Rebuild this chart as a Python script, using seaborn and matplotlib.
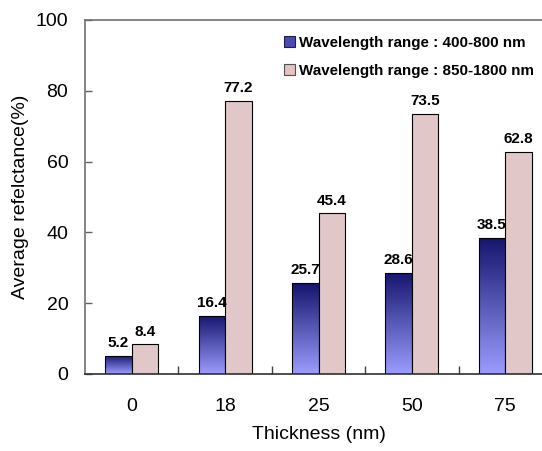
import numpy as np
import pandas as pd
import matplotlib
matplotlib.use("Agg")
import matplotlib.pyplot as plt
import seaborn as sns
from matplotlib.colors import LinearSegmentedColormap
from matplotlib.patches import Patch

thickness = ["0", "18", "25", "50", "75"]
series_names = ["Wavelength range : 400-800 nm", "Wavelength range : 850-1800 nm"]
visible_vals = [5.2, 16.4, 25.7, 28.6, 38.5]
nir_vals = [8.4, 77.2, 45.4, 73.5, 62.8]
y_ticks = [0, 20, 40, 60, 80, 100]

df = pd.DataFrame({
    "Thickness": thickness * 2,
    "Series": [series_names[0]] * len(thickness) + [series_names[1]] * len(thickness),
    "Value": visible_vals + nir_vals,
})

sns.set_style("white")
plt.rcParams["font.family"] = ["Liberation Sans", "DejaVu Sans"]
plt.rcParams["text.color"] = "black"
plt.rcParams["axes.labelcolor"] = "black"
plt.rcParams["xtick.labelcolor"] = "black"
plt.rcParams["ytick.labelcolor"] = "black"

fig = plt.figure(figsize=(5.42, 4.51), dpi=100)
ax = fig.add_axes([85 / 542, 77 / 451, 467 / 542, 354 / 451])

blue_flat = "#4a4ab4"
pink = "#e6c2c2"
sns.barplot(data=df, x="Thickness", y="Value", hue="Series", order=thickness,
            hue_order=series_names, palette=[blue_flat, pink], width=0.567,
            edgecolor="black", linewidth=0.8, legend=False, ax=ax)

ax.set_xlim(-0.5, 4.5)
ax.set_ylim(0, 100)
ax.set_yticks(y_ticks)

# gradient fill for the first series
cmap = LinearSegmentedColormap.from_list("bl", ["#9c9cff", "#15156e"])
grad = np.linspace(0, 1, 256).reshape(-1, 1)
n = len(thickness)
for i, p in enumerate(ax.patches[:n]):
    x0, y0 = p.get_x(), p.get_y()
    w, h = p.get_width(), p.get_height()
    im = ax.imshow(grad, cmap=cmap, aspect="auto", origin="lower",
                   extent=[x0, x0 + w, y0, y0 + h], zorder=p.get_zorder() - 0.01,
                   interpolation="bilinear")
    im.set_clip_path(p)
    p.set_facecolor("none")
ax.set_xlim(-0.5, 4.5)
ax.set_ylim(0, 100)

for c in ax.containers:
    ax.bar_label(c, fmt="%.1f", padding=4, fontsize=11, fontweight="bold", color="black")

ax.set_xlabel("Thickness (nm)", fontsize=14, labelpad=8)
ax.set_ylabel("Average refelctance(%)", fontsize=14, labelpad=5)
ax.tick_params(axis="both", labelsize=14)
ax.tick_params(axis="y", direction="in", length=5, width=1, color="#606060", pad=12, left=True)
ax.tick_params(axis="x", which="major", length=0, pad=17)
ax.set_xticks([0.5, 1.5, 2.5, 3.5], minor=True)
ax.tick_params(axis="x", which="minor", direction="in", length=6, width=1,
               color="#404040", bottom=True)

for s in ["left", "top"]:
    ax.spines[s].set_color("#707070")
    ax.spines[s].set_linewidth(1.2)
ax.spines["bottom"].set_color("#303030")
ax.spines["bottom"].set_linewidth(1.2)
ax.spines["right"].set_visible(False)

handles = [Patch(facecolor=blue_flat, edgecolor="#202040", linewidth=0.8),
           Patch(facecolor=pink, edgecolor="#505050", linewidth=0.8)]
fig.legend(handles, series_names, loc="center left",
           bbox_to_anchor=(284 / 542, 1 - 57 / 451), frameon=False,
           prop={"weight": "bold", "size": 10.9}, handlelength=0.75,
           handleheight=0.75, handletextpad=0.25, labelspacing=0.95,
           borderpad=0, borderaxespad=0)

fig.savefig("out.png", dpi=100)
